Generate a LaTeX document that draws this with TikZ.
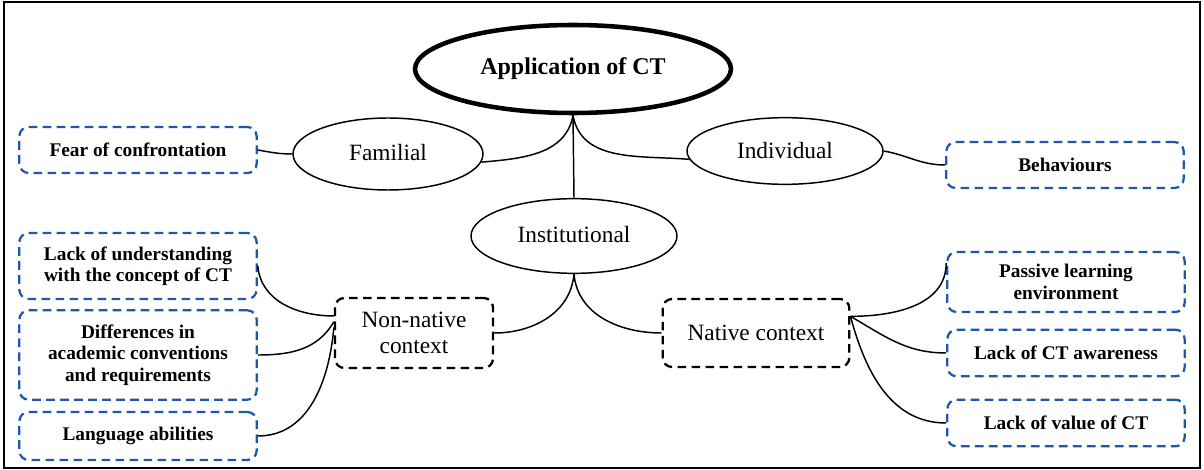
\documentclass[tikz,border=0pt]{standalone}
\usepackage{fontspec}
\setmainfont{Liberation Serif}
\usetikzlibrary{shapes.geometric}
\definecolor{boxblue}{RGB}{30,88,170}

\begin{document}
\begin{tikzpicture}[x=0.75pt,y=-0.75pt,
  oval/.style={ellipse,draw,line width=1.1pt,inner sep=0pt,font=\fontsize{17.5}{20}\selectfont},
  ctxbox/.style={draw,dash pattern=on 6.5pt off 4pt,line width=1.7pt,rounded corners=7pt,align=center,inner sep=0pt,font=\fontsize{17.5}{19}\selectfont},
  factor/.style={draw=boxblue,dash pattern=on 6.5pt off 4pt,line width=1.7pt,rounded corners=7pt,align=center,inner sep=0pt,minimum width=178pt,font=\fontsize{14.5}{16}\selectfont\bfseries},
  link/.style={line width=1.1pt}]
\useasboundingbox (0,0) rectangle (1204,470);
%frame
\draw[line width=1.5pt] (4,2) rectangle (1200,468);

%ellipses
\node[oval,line width=3.4pt,minimum width=237pt,minimum height=66pt,font=\fontsize{18}{20}\selectfont\bfseries] (app) at (573,69) {\raisebox{3pt}{Application of CT}};
\node[oval,minimum width=142.5pt,minimum height=54pt] (familial) at (388,154) {\raisebox{2pt}{Familial}};
\node[oval,minimum width=147pt,minimum height=50pt] (individual) at (785,151) {Individual};
\node[oval,minimum width=154.5pt,minimum height=56pt] (institutional) at (574,236) {\raisebox{2pt}{Institutional}};

%contexts
\node[ctxbox,minimum width=118.5pt,minimum height=52.5pt] (nonnative) at (414,333) {Non-native\\context};
\node[ctxbox,minimum width=140pt,minimum height=51pt] (native) at (756,333) {Native context};

%factors
\node[factor,minimum height=34.5pt] (fear) at (138,150) {Fear of confrontation};
\node[factor,minimum height=34.5pt] (behav) at (1065,165) {Behaviours};
\node[factor,minimum height=49.5pt] (lackund) at (138,266) {Lack of understanding\\with the concept of CT};
\node[factor,minimum height=67pt] (diff) at (138,355) {Differences in\\academic conventions\\and requirements};
\node[factor,minimum height=36pt] (lang) at (138,436) {Language abilities};
\node[factor,minimum height=45pt] (passive) at (1066,282) {Passive learning\\environment};
\node[factor,minimum height=35pt] (awareness) at (1066,353) {Lack of CT awareness};
\node[factor,minimum height=35pt] (value) at (1066,423) {Lack of value of CT};

%links
\draw[link] (app.south) -- (institutional.north);
\draw[link] (app.south) to[out=-100,in=5] (familial.-5);
\draw[link] (app.south) to[out=-80,in=175] (individual.185);
\draw[link] (fear.east) to[out=-10,in=180] (familial.west);
\draw[link] (individual.east) to[out=-10,in=180] (behav.west);
\draw[link] (institutional.south) to[out=-95,in=0] (nonnative.east);
\draw[link] (institutional.south) to[out=-85,in=180] (native.west);
\draw[link] (lackund.east) to[out=-85,in=180] (nonnative.168);
\draw[link] (diff.east) to[out=0,in=-120] (nonnative.172);
\draw[link] (lang.east) to[out=0,in=-95] (nonnative.176);
\draw[link] (native.10) to[out=0,in=-90] (passive.171);
\draw[link] (native.10) to[out=-30,in=180] (awareness.west);
\draw[link] (native.10) to[out=-75,in=180] (value.west);
\end{tikzpicture}
\end{document}
